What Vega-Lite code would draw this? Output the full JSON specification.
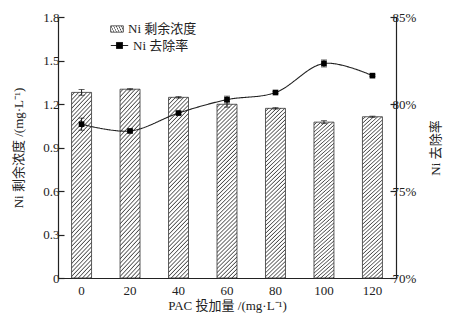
{
  "$schema": "https://vega.github.io/schema/vega-lite/v6.json",
  "width": 338,
  "height": 261,
  "autosize": {"type": "none"},
  "padding": {"left": 58, "top": 17, "right": 56, "bottom": 44},
  "background": "white",
  "config": {
    "view": {"stroke": null},
    "font": "Liberation Serif, Noto Sans CJK SC",
    "axis": {
      "domainColor": "#222", "domainWidth": 1.2, "tickColor": "#222", "tickWidth": 1.2,
      "labelColor": "#222", "titleColor": "#222", "labelFontSize": 13, "titleFontSize": 13,
      "labelFont": "Liberation Serif", "titleFont": "Liberation Serif, Noto Sans CJK SC",
      "titleFontWeight": "normal", "grid": false
    },
    "legend": {
      "labelFont": "Liberation Serif, Noto Sans CJK SC", "labelFontSize": 13, "labelColor": "#222"
    }
  },
  "data": {
    "values": [
      {"PAC": 0, "conc": 1.28, "conc_err": 0.02, "rate": 78.84, "rate_err": 0.35},
      {"PAC": 20, "conc": 1.302, "conc_err": 0.004, "rate": 78.45, "rate_err": 0.05},
      {"PAC": 40, "conc": 1.246, "conc_err": 0.005, "rate": 79.48, "rate_err": 0.08},
      {"PAC": 60, "conc": 1.198, "conc_err": 0.02, "rate": 80.25, "rate_err": 0.2},
      {"PAC": 80, "conc": 1.17, "conc_err": 0.005, "rate": 80.66, "rate_err": 0.05},
      {"PAC": 100, "conc": 1.075, "conc_err": 0.01, "rate": 82.33, "rate_err": 0.2},
      {"PAC": 120, "conc": 1.112, "conc_err": 0.004, "rate": 81.63, "rate_err": 0.05}
    ]
  },
  "encoding": {
    "x": {
      "field": "PAC", "type": "ordinal",
      "scale": {"paddingInner": 0.588, "paddingOuter": 0.28},
      "axis": {"title": "PAC 投加量 /(mg·L⁻¹)", "labelAngle": 0, "ticks": false, "labelPadding": 6, "titlePadding": 2}
    }
  },
  "layer": [
    {
      "layer": [
        {
          "mark": {
            "type": "bar", "strokeWidth": 0.8,
            "fill": {"gradient": "linear", "x1": 0, "y1": 0, "x2": 0.125, "y2": 1.1, "stops": [
              {"offset": 0, "color": "#ffffff"}, {"offset": 0.0094, "color": "#ffffff"}, {"offset": 0.0156, "color": "#4a4a4a"},
              {"offset": 0.0208, "color": "#ffffff"}, {"offset": 0.0302, "color": "#ffffff"}, {"offset": 0.0364, "color": "#4a4a4a"},
              {"offset": 0.0417, "color": "#ffffff"}, {"offset": 0.0511, "color": "#ffffff"}, {"offset": 0.0573, "color": "#4a4a4a"},
              {"offset": 0.0625, "color": "#ffffff"}, {"offset": 0.0719, "color": "#ffffff"}, {"offset": 0.0781, "color": "#4a4a4a"},
              {"offset": 0.0833, "color": "#ffffff"}, {"offset": 0.0927, "color": "#ffffff"}, {"offset": 0.0989, "color": "#4a4a4a"},
              {"offset": 0.1042, "color": "#ffffff"}, {"offset": 0.1136, "color": "#ffffff"}, {"offset": 0.1198, "color": "#4a4a4a"},
              {"offset": 0.125, "color": "#ffffff"}, {"offset": 0.1344, "color": "#ffffff"}, {"offset": 0.1406, "color": "#4a4a4a"},
              {"offset": 0.1458, "color": "#ffffff"}, {"offset": 0.1552, "color": "#ffffff"}, {"offset": 0.1614, "color": "#4a4a4a"},
              {"offset": 0.1667, "color": "#ffffff"}, {"offset": 0.1761, "color": "#ffffff"}, {"offset": 0.1823, "color": "#4a4a4a"},
              {"offset": 0.1875, "color": "#ffffff"}, {"offset": 0.1969, "color": "#ffffff"}, {"offset": 0.2031, "color": "#4a4a4a"},
              {"offset": 0.2083, "color": "#ffffff"}, {"offset": 0.2177, "color": "#ffffff"}, {"offset": 0.2239, "color": "#4a4a4a"},
              {"offset": 0.2292, "color": "#ffffff"}, {"offset": 0.2386, "color": "#ffffff"}, {"offset": 0.2448, "color": "#4a4a4a"},
              {"offset": 0.25, "color": "#ffffff"}, {"offset": 0.2594, "color": "#ffffff"}, {"offset": 0.2656, "color": "#4a4a4a"},
              {"offset": 0.2708, "color": "#ffffff"}, {"offset": 0.2802, "color": "#ffffff"}, {"offset": 0.2864, "color": "#4a4a4a"},
              {"offset": 0.2917, "color": "#ffffff"}, {"offset": 0.3011, "color": "#ffffff"}, {"offset": 0.3073, "color": "#4a4a4a"},
              {"offset": 0.3125, "color": "#ffffff"}, {"offset": 0.3219, "color": "#ffffff"}, {"offset": 0.3281, "color": "#4a4a4a"},
              {"offset": 0.3333, "color": "#ffffff"}, {"offset": 0.3427, "color": "#ffffff"}, {"offset": 0.3489, "color": "#4a4a4a"},
              {"offset": 0.3542, "color": "#ffffff"}, {"offset": 0.3636, "color": "#ffffff"}, {"offset": 0.3698, "color": "#4a4a4a"},
              {"offset": 0.375, "color": "#ffffff"}, {"offset": 0.3844, "color": "#ffffff"}, {"offset": 0.3906, "color": "#4a4a4a"},
              {"offset": 0.3958, "color": "#ffffff"}, {"offset": 0.4052, "color": "#ffffff"}, {"offset": 0.4114, "color": "#4a4a4a"},
              {"offset": 0.4167, "color": "#ffffff"}, {"offset": 0.4261, "color": "#ffffff"}, {"offset": 0.4323, "color": "#4a4a4a"},
              {"offset": 0.4375, "color": "#ffffff"}, {"offset": 0.4469, "color": "#ffffff"}, {"offset": 0.4531, "color": "#4a4a4a"},
              {"offset": 0.4583, "color": "#ffffff"}, {"offset": 0.4677, "color": "#ffffff"}, {"offset": 0.4739, "color": "#4a4a4a"},
              {"offset": 0.4792, "color": "#ffffff"}, {"offset": 0.4886, "color": "#ffffff"}, {"offset": 0.4948, "color": "#4a4a4a"},
              {"offset": 0.5, "color": "#ffffff"}, {"offset": 0.5094, "color": "#ffffff"}, {"offset": 0.5156, "color": "#4a4a4a"},
              {"offset": 0.5208, "color": "#ffffff"}, {"offset": 0.5302, "color": "#ffffff"}, {"offset": 0.5364, "color": "#4a4a4a"},
              {"offset": 0.5417, "color": "#ffffff"}, {"offset": 0.5511, "color": "#ffffff"}, {"offset": 0.5573, "color": "#4a4a4a"},
              {"offset": 0.5625, "color": "#ffffff"}, {"offset": 0.5719, "color": "#ffffff"}, {"offset": 0.5781, "color": "#4a4a4a"},
              {"offset": 0.5833, "color": "#ffffff"}, {"offset": 0.5927, "color": "#ffffff"}, {"offset": 0.5989, "color": "#4a4a4a"},
              {"offset": 0.6042, "color": "#ffffff"}, {"offset": 0.6136, "color": "#ffffff"}, {"offset": 0.6198, "color": "#4a4a4a"},
              {"offset": 0.625, "color": "#ffffff"}, {"offset": 0.6344, "color": "#ffffff"}, {"offset": 0.6406, "color": "#4a4a4a"},
              {"offset": 0.6458, "color": "#ffffff"}, {"offset": 0.6552, "color": "#ffffff"}, {"offset": 0.6614, "color": "#4a4a4a"},
              {"offset": 0.6667, "color": "#ffffff"}, {"offset": 0.6761, "color": "#ffffff"}, {"offset": 0.6823, "color": "#4a4a4a"},
              {"offset": 0.6875, "color": "#ffffff"}, {"offset": 0.6969, "color": "#ffffff"}, {"offset": 0.7031, "color": "#4a4a4a"},
              {"offset": 0.7083, "color": "#ffffff"}, {"offset": 0.7177, "color": "#ffffff"}, {"offset": 0.7239, "color": "#4a4a4a"},
              {"offset": 0.7292, "color": "#ffffff"}, {"offset": 0.7386, "color": "#ffffff"}, {"offset": 0.7448, "color": "#4a4a4a"},
              {"offset": 0.75, "color": "#ffffff"}, {"offset": 0.7594, "color": "#ffffff"}, {"offset": 0.7656, "color": "#4a4a4a"},
              {"offset": 0.7708, "color": "#ffffff"}, {"offset": 0.7802, "color": "#ffffff"}, {"offset": 0.7864, "color": "#4a4a4a"},
              {"offset": 0.7917, "color": "#ffffff"}, {"offset": 0.8011, "color": "#ffffff"}, {"offset": 0.8073, "color": "#4a4a4a"},
              {"offset": 0.8125, "color": "#ffffff"}, {"offset": 0.8219, "color": "#ffffff"}, {"offset": 0.8281, "color": "#4a4a4a"},
              {"offset": 0.8333, "color": "#ffffff"}, {"offset": 0.8427, "color": "#ffffff"}, {"offset": 0.8489, "color": "#4a4a4a"},
              {"offset": 0.8542, "color": "#ffffff"}, {"offset": 0.8636, "color": "#ffffff"}, {"offset": 0.8698, "color": "#4a4a4a"},
              {"offset": 0.875, "color": "#ffffff"}, {"offset": 0.8844, "color": "#ffffff"}, {"offset": 0.8906, "color": "#4a4a4a"},
              {"offset": 0.8958, "color": "#ffffff"}, {"offset": 0.9052, "color": "#ffffff"}, {"offset": 0.9114, "color": "#4a4a4a"},
              {"offset": 0.9167, "color": "#ffffff"}, {"offset": 0.9261, "color": "#ffffff"}, {"offset": 0.9323, "color": "#4a4a4a"},
              {"offset": 0.9375, "color": "#ffffff"}, {"offset": 0.9469, "color": "#ffffff"}, {"offset": 0.9531, "color": "#4a4a4a"},
              {"offset": 0.9583, "color": "#ffffff"}, {"offset": 0.9677, "color": "#ffffff"}, {"offset": 0.9739, "color": "#4a4a4a"},
              {"offset": 0.9792, "color": "#ffffff"}, {"offset": 0.9886, "color": "#ffffff"}, {"offset": 0.9948, "color": "#4a4a4a"},
              {"offset": 1, "color": "#ffffff"}
            ]}
          },
          "encoding": {
            "y": {
              "field": "conc", "type": "quantitative",
              "scale": {"domain": [0, 1.8], "nice": false},
              "axis": {
                "title": "Ni 剩余浓度 /(mg·L⁻¹)", "values": [0, 0.3, 0.6, 0.9, 1.2, 1.5, 1.8],
                "format": ".1~f", "tickSize": -6, "labelPadding": 5, "titlePadding": 17
              }
            },
            "stroke": {
              "datum": "Ni 剩余浓度", "type": "nominal",
              "scale": {"range": ["#333333"]},
              "legend": {
                "title": null, "orient": "none", "legendX": 52, "legendY": 5,
                "symbolType": "M-1,-0.5H1V0.5H-1Z", "symbolSize": 160, "symbolStrokeWidth": 0.8,
                "labelOffset": 4,
                "encode": {"symbols": {"update": {"fill": {"value": {"gradient": "linear", "x1": 0, "y1": 0, "x2": 1.2, "y2": 0.6, "stops": [
                  {"offset": 0, "color": "#ffffff"}, {"offset": 0.09, "color": "#ffffff"}, {"offset": 0.15, "color": "#4a4a4a"},
                  {"offset": 0.2, "color": "#ffffff"}, {"offset": 0.29, "color": "#ffffff"}, {"offset": 0.35, "color": "#4a4a4a"},
                  {"offset": 0.4, "color": "#ffffff"}, {"offset": 0.49, "color": "#ffffff"}, {"offset": 0.55, "color": "#4a4a4a"},
                  {"offset": 0.6, "color": "#ffffff"}, {"offset": 0.69, "color": "#ffffff"}, {"offset": 0.75, "color": "#4a4a4a"},
                  {"offset": 0.8, "color": "#ffffff"}, {"offset": 0.89, "color": "#ffffff"}, {"offset": 0.95, "color": "#4a4a4a"},
                  {"offset": 1, "color": "#ffffff"}
                ]}}}}}
              }
            }
          }
        },
        {
          "mark": {"type": "errorbar", "ticks": {"size": 6}, "color": "#222", "thickness": 1},
          "encoding": {
            "y": {"field": "conc", "type": "quantitative", "title": "Ni 剩余浓度 /(mg·L⁻¹)"},
            "yError": {"field": "conc_err"}
          }
        }
      ]
    },
    {
      "layer": [
        {
          "mark": {"type": "line", "interpolate": "catmull-rom", "color": "#222", "strokeWidth": 1.1},
          "encoding": {
            "y": {
              "field": "rate", "type": "quantitative",
              "scale": {"domain": [70, 85], "nice": false},
              "axis": {
                "orient": "right", "title": "Ni 去除率", "titleAngle": 270,
                "values": [70, 75, 80, 85], "labelExpr": "datum.value + '%'",
                "tickSize": -6, "labelPadding": 2, "titlePadding": 27
              }
            },
            "strokeDash": {
              "datum": "Ni 去除率", "type": "nominal",
              "scale": {"range": [[1, 0]]},
              "legend": {
                "title": null, "orient": "none", "legendX": 52, "legendY": 19,
                "symbolType": "M-1,0H1M-0.35,-0.35H0.35V0.35H-0.35Z",
                "symbolSize": 300, "symbolStrokeWidth": 1, "labelOffset": 4,
                "symbolFillColor": "#000", "symbolStrokeColor": "#000",
                "encode": {"symbols": {"update": {"stroke": {"value": "#000"}, "fill": {"value": "#000"}, "opacity": {"value": 1}}}}
              }
            }
          }
        },
        {
          "mark": {"type": "errorbar", "ticks": {"size": 6}, "color": "#222", "thickness": 1},
          "encoding": {
            "y": {"field": "rate", "type": "quantitative", "title": "Ni 去除率"},
            "yError": {"field": "rate_err"}
          }
        },
        {
          "mark": {"type": "point", "shape": "square", "filled": true, "color": "#000", "size": 32, "opacity": 1},
          "encoding": {
            "y": {"field": "rate", "type": "quantitative", "title": "Ni 去除率"}
          }
        }
      ]
    }
  ],
  "resolve": {"scale": {"y": "independent", "stroke": "independent", "strokeDash": "independent"}}
}
